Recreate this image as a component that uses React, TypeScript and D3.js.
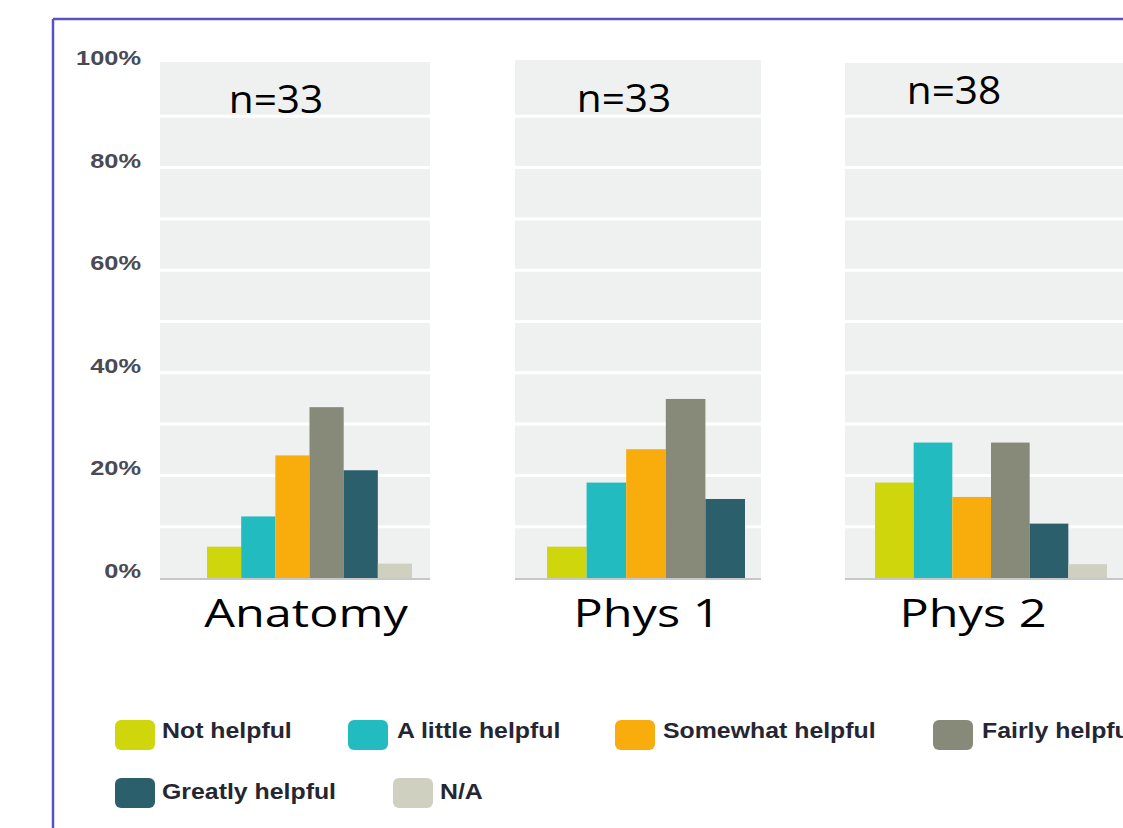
import React from "react";
import * as d3 from "d3";

// ---------- data ----------
const categories = [
  "Not helpful",
  "A little helpful",
  "Somewhat helpful",
  "Fairly helpful",
  "Greatly helpful",
  "N/A",
];
const courses = ["Anatomy", "Phys 1", "Phys 2"];
const sampleSizes = ["n=33", "n=33", "n=38"];
const anatomyValues = [6.1, 12.0, 23.9, 33.3, 21.0, 2.8];
const phys1Values = [6.1, 18.6, 25.1, 34.9, 15.4, 0];
const phys2Values = [18.6, 26.4, 15.8, 26.4, 10.6, 2.7];
const yTicks = [0, 20, 40, 60, 80, 100];
const gridValues = [10, 20, 30, 40, 50, 60, 70, 80, 90];
const colors = ["#cfd60c", "#22bcc0", "#f9ad0c", "#878a78", "#2b5f6c", "#d0d0c0"];

const seriesByCourse = [anatomyValues, phys1Values, phys2Values];

// ---------- layout ----------
const W = 1123;
const H = 828;
const panels = [
  { x0: 160, x1: 430, top: 62, bars: [207, 412], nX: 276, nY: 113, labelX: 306 },
  { x0: 515, x1: 761, top: 60, bars: [547, 745 + 39.6], nX: 624, nY: 112, labelX: 647 },
  { x0: 845, x1: 1130, top: 63, bars: [875, 1107], nX: 954, nY: 104, labelX: 973 },
];
const legendItems = [
  { sx: 115, sy: 720, tx: 162, ty: 738 },
  { sx: 348, sy: 720, tx: 397, ty: 738 },
  { sx: 615, sy: 720, tx: 663, ty: 738 },
  { sx: 933, sy: 720, tx: 982, ty: 738 },
  { sx: 115, sy: 778, tx: 162, ty: 799 },
  { sx: 393, sy: 778, tx: 440, ty: 799 },
];

const y = d3.scaleLinear().domain([0, 100]).range([578, 65]);

function SText(props: {
  x: number;
  y: number;
  sx: number;
  anchor?: string;
  size: number;
  family: string;
  weight?: string | number;
  fill: string;
  children: React.ReactNode;
}) {
  return (
    <text
      transform={`translate(${props.x},${props.y}) scale(${props.sx},1)`}
      textAnchor={props.anchor || "start"}
      fontSize={props.size}
      fontFamily={props.family}
      fontWeight={props.weight || "normal"}
      fill={props.fill}
    >
      {props.children}
    </text>
  );
}

export default function App() {
  return (
    <svg
      width={W}
      height={H}
      style={{ position: "absolute", left: 0, top: 0, background: "#fff" }}
    >
      {/* frame */}
      <line x1={53} y1={19} x2={W} y2={19} stroke="#5a50c8" strokeWidth={2.5} />
      <line x1={53} y1={19} x2={53} y2={H} stroke="#5a50c8" strokeWidth={2.5} />

      {/* y axis labels */}
      {yTicks.map((t) => (
        <SText
          key={t}
          x={141}
          y={y(t)}
          sx={1.27}
          anchor="end"
          size={20}
          weight="bold"
          family="Liberation Sans, Arial, sans-serif"
          fill="#4a4a55"
        >
          {`${t}%`}
        </SText>
      ))}

      {panels.map((p, i) => {
        const x = d3
          .scaleBand<string>()
          .domain(categories)
          .range(p.bars as [number, number])
          .padding(0);
        const vals = seriesByCourse[i];
        return (
          <g key={courses[i]}>
            <rect x={p.x0} y={p.top} width={p.x1 - p.x0} height={y(0) - p.top} fill="#eff0f0" />
            {gridValues.map((g) => (
              <line key={g} x1={p.x0} x2={p.x1} y1={y(g)} y2={y(g)} stroke="#ffffff" strokeWidth={3} />
            ))}
            {categories.map((c, k) =>
              vals[k] > 0 ? (
                <rect
                  key={c}
                  x={x(c)}
                  y={y(vals[k])}
                  width={x.bandwidth()}
                  height={y(0) - y(vals[k])}
                  fill={colors[k]}
                />
              ) : null
            )}
            <line x1={p.x0} x2={p.x1} y1={y(0) + 1} y2={y(0) + 1} stroke="#c6c7c7" strokeWidth={2} />
            <SText x={p.nX} y={p.nY} sx={1.04} anchor="middle" size={39} family="Open Sans, sans-serif" fill="#000">
              {sampleSizes[i]}
            </SText>
            <SText x={p.labelX} y={627} sx={1.28} anchor="middle" size={38} family="Open Sans, sans-serif" fill="#000">
              {courses[i]}
            </SText>
          </g>
        );
      })}

      {/* legend */}
      {categories.map((c, k) => {
        const l = legendItems[k];
        return (
          <g key={c}>
            <rect x={l.sx} y={l.sy} width={40} height={30} rx={6} fill={colors[k]} />
            <SText
              x={l.tx}
              y={l.ty}
              sx={1.13}
              size={22}
              weight="bold"
              family="Liberation Sans, Arial, sans-serif"
              fill="#262633"
            >
              {c}
            </SText>
          </g>
        );
      })}
    </svg>
  );
}
